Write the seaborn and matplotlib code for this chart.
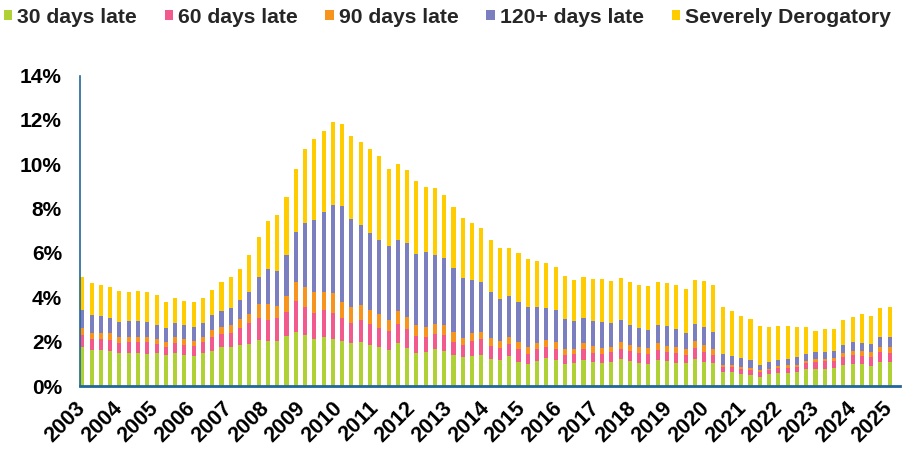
import numpy as np
import pandas as pd
import seaborn as sns
import matplotlib.pyplot as plt
from matplotlib.patches import Patch

# --- DATA: percent of balance by delinquency status, quarterly 2003Q1 - 2024Q4 ---
late_30 = [1.77, 1.62, 1.62, 1.58, 1.47, 1.50, 1.50, 1.44, 1.47, 1.40, 1.47, 1.40,
           1.37, 1.50, 1.58, 1.74, 1.77, 1.85, 1.89, 2.07, 2.03, 2.03, 2.27, 2.45,
           2.30, 2.12, 2.19, 2.11, 2.03, 1.95, 2.00, 1.83, 1.76, 1.62, 1.92, 1.71,
           1.50, 1.55, 1.67, 1.59, 1.38, 1.29, 1.35, 1.41, 1.23, 1.19, 1.35, 1.08,
           0.99, 1.14, 1.26, 1.17, 0.99, 1.02, 1.17, 1.07, 1.02, 1.08, 1.20, 1.13,
           1.02, 1.01, 1.17, 1.11, 1.04, 1.04, 1.22, 1.10, 1.04, 0.62, 0.63, 0.54,
           0.51, 0.42, 0.54, 0.59, 0.59, 0.63, 0.75, 0.78, 0.78, 0.81, 0.96, 1.01,
           0.98, 0.92, 1.10, 1.07]
late_60 = [0.53, 0.50, 0.50, 0.49, 0.45, 0.50, 0.50, 0.53, 0.41, 0.37, 0.48, 0.45,
           0.43, 0.50, 0.61, 0.60, 0.63, 0.75, 0.94, 1.01, 0.96, 1.02, 1.08, 1.40,
           1.28, 1.19, 1.25, 1.20, 1.02, 0.90, 0.98, 0.97, 0.87, 0.87, 0.89, 0.85,
           0.77, 0.67, 0.67, 0.71, 0.62, 0.57, 0.68, 0.70, 0.59, 0.51, 0.56, 0.60,
           0.47, 0.51, 0.51, 0.51, 0.42, 0.42, 0.48, 0.43, 0.42, 0.47, 0.48, 0.46,
           0.45, 0.43, 0.45, 0.44, 0.43, 0.37, 0.48, 0.45, 0.34, 0.24, 0.21, 0.21,
           0.21, 0.21, 0.17, 0.22, 0.22, 0.21, 0.27, 0.30, 0.33, 0.32, 0.36, 0.37,
           0.36, 0.40, 0.45, 0.43]
late_90 = [0.33, 0.28, 0.28, 0.30, 0.28, 0.22, 0.23, 0.25, 0.22, 0.23, 0.25, 0.25,
           0.23, 0.22, 0.33, 0.33, 0.35, 0.43, 0.42, 0.62, 0.69, 0.56, 0.71, 0.84,
           0.88, 0.93, 0.78, 0.90, 0.75, 0.70, 0.69, 0.63, 0.62, 0.49, 0.57, 0.54,
           0.48, 0.44, 0.46, 0.44, 0.43, 0.30, 0.35, 0.34, 0.33, 0.34, 0.31, 0.30,
           0.28, 0.27, 0.30, 0.29, 0.27, 0.24, 0.27, 0.30, 0.29, 0.22, 0.30, 0.26,
           0.27, 0.26, 0.30, 0.25, 0.29, 0.26, 0.31, 0.30, 0.29, 0.10, 0.11, 0.11,
           0.09, 0.09, 0.06, 0.11, 0.12, 0.12, 0.11, 0.15, 0.12, 0.15, 0.18, 0.21,
           0.22, 0.20, 0.22, 0.26]
late_120 = [0.80, 0.80, 0.77, 0.71, 0.70, 0.71, 0.72, 0.68, 0.65, 0.63, 0.65, 0.65,
            0.64, 0.63, 0.68, 0.73, 0.78, 0.85, 0.99, 1.23, 1.59, 1.59, 1.85, 2.25,
            2.90, 3.26, 3.63, 3.95, 4.32, 3.99, 3.60, 3.48, 3.33, 3.33, 3.20, 3.33,
            3.19, 3.38, 3.11, 3.03, 2.89, 2.71, 2.40, 2.24, 2.09, 1.88, 1.84, 1.82,
            1.81, 1.66, 1.45, 1.46, 1.34, 1.24, 1.16, 1.14, 1.17, 1.06, 1.00, 0.92,
            0.86, 0.84, 0.85, 0.91, 0.82, 0.72, 0.79, 0.82, 0.78, 0.50, 0.40, 0.39,
            0.38, 0.24, 0.30, 0.27, 0.30, 0.36, 0.30, 0.29, 0.32, 0.31, 0.33, 0.41,
            0.39, 0.39, 0.45, 0.46]
severe = [1.50, 1.46, 1.38, 1.37, 1.37, 1.31, 1.32, 1.34, 1.35, 1.17, 1.12, 1.10,
          1.12, 1.10, 1.13, 1.29, 1.40, 1.39, 1.67, 1.77, 2.15, 2.51, 2.61, 2.84,
          3.33, 3.65, 3.66, 3.76, 3.69, 3.73, 3.73, 3.78, 3.80, 3.46, 3.42, 3.32,
          3.30, 2.95, 3.03, 2.83, 2.76, 2.70, 2.57, 2.43, 2.34, 2.29, 2.18, 2.18,
          2.16, 2.06, 2.03, 1.95, 1.95, 1.86, 1.84, 1.88, 1.92, 1.92, 1.87, 1.93,
          1.95, 1.97, 1.93, 1.92, 1.97, 1.97, 1.98, 2.06, 2.10, 2.10, 2.03, 1.91,
          1.85, 1.73, 1.60, 1.52, 1.48, 1.33, 1.23, 0.96, 1.03, 0.99, 1.15, 1.11,
          1.28, 1.26, 1.30, 1.34]

quarters = [f"{y}Q{q}" for y in range(2003, 2025) for q in range(1, 5)]
year_labels = [str(y) for y in range(2003, 2026)]

series_names = ["30 days late", "60 days late", "90 days late",
                "120+ days late", "Severely Derogatory"]
colors = ["#B0D136", "#F25A8E", "#F7941D", "#7B7EBF", "#FFCC00"]

df = pd.DataFrame({"quarter": quarters,
                   series_names[0]: late_30,
                   series_names[1]: late_60,
                   series_names[2]: late_90,
                   series_names[3]: late_120,
                   series_names[4]: severe})

# cumulative stack, drawn from the top layer down
cum = df[series_names].cumsum(axis=1)

sns.set_theme(style="white")
plt.rcParams['font.family'] = ['Liberation Sans', 'DejaVu Sans']
plt.rcParams['font.weight'] = 'bold'

fig = plt.figure(figsize=(9.02, 4.5), dpi=100)
ax = fig.add_axes([0.0887, 0.1422, 0.909, 0.69])

for name, col in reversed(list(zip(series_names, colors))):
    sns.barplot(x=df["quarter"], y=cum[name], color=col, saturation=1,
                width=0.44, linewidth=0, ax=ax)

ax.set_ylim(0, 14)
ax.set_xlim(-0.25, 88.1)
ax.set_yticks(range(0, 15, 2))
ax.set_yticklabels([f"{v}%" for v in range(0, 15, 2)], fontsize=15,
                   fontweight='bold')
ax.set_xticks(np.linspace(0, len(quarters) - 1, len(year_labels)))
ax.set_xticklabels(year_labels, rotation=45, ha='right', va='center',
                   rotation_mode='anchor', fontsize=15.5, fontweight='bold')
ax.tick_params(axis='y', length=0, pad=13, colors='black')
ax.tick_params(axis='x', length=0, pad=14, colors='black')
ax.set_xlabel("")
ax.set_ylabel("")

for side in ["top", "right"]:
    ax.spines[side].set_visible(False)
ax.spines["left"].set_color("#21669C")
ax.spines["left"].set_linewidth(1.2)
ax.spines["bottom"].set_color("#21669C")
ax.spines["bottom"].set_linewidth(2)

handles = [Patch(facecolor=c, edgecolor='none') for c in colors]
fig.legend(handles, series_names, loc='center left',
           bbox_to_anchor=(0.004, 0.962), ncol=5, frameon=False,
           prop={'size': 15.2, 'weight': 'bold'},
           handlelength=0.4, handleheight=0.4, handletextpad=0.25,
           columnspacing=1.3, borderaxespad=0, borderpad=0)

fig.savefig("out.png", dpi=100)
